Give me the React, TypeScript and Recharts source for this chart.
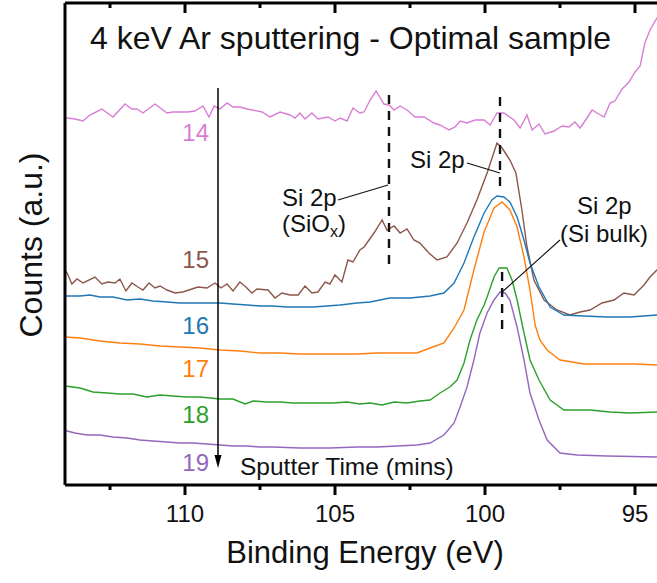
import { LineChart, Line, XAxis, YAxis, ReferenceLine, Customized } from "recharts";

const FONT = '"Liberation Sans", Arial, Helvetica, sans-serif';

// binding energy ticks (eV) - minors have no label
const xTicks = [112.5, 110, 107.5, 105, 102.5, 100, 97.5, 95];
const majorTicks = [110, 105, 100, 95];

// [binding energy (eV), counts (a.u., stacked offset)]
const spectrum14: [number, number][] = [
  [114.0, 367], [113.93, 367], [113.67, 366], [113.4, 364], [113.17, 370], [112.77, 376], [112.4, 368],
  [112.0, 381], [111.77, 376], [111.6, 376], [111.4, 372], [111.0, 381], [110.6, 372], [110.4, 373],
  [109.93, 373], [109.67, 374], [109.4, 379], [109.2, 368], [109.03, 379], [108.83, 376], [108.6, 382],
  [108.4, 378], [108.17, 378], [107.93, 376], [107.43, 373], [107.17, 368], [106.83, 373], [106.5, 370],
  [106.33, 367], [106.17, 372], [106.0, 366], [105.77, 372], [105.57, 366], [105.23, 368], [105.0, 364],
  [104.83, 367], [104.6, 364], [104.4, 377], [104.17, 372], [104.03, 373], [103.83, 385], [103.63, 394],
  [103.37, 381], [103.2, 380], [103.03, 375], [102.83, 379], [102.6, 375], [102.33, 368], [102.03, 368],
  [101.7, 362], [101.5, 360], [101.2, 355], [101.0, 358], [100.83, 364], [100.6, 362], [100.33, 365],
  [100.03, 365], [99.83, 360], [99.6, 372], [99.37, 372], [99.03, 365], [98.83, 357], [98.6, 370],
  [98.43, 355], [98.2, 361], [98.0, 351], [97.7, 354], [97.43, 359], [97.2, 358], [97.0, 363],
  [96.83, 357], [96.6, 367], [96.43, 375], [96.27, 372], [96.03, 368], [95.83, 382], [95.67, 384],
  [95.43, 396], [95.2, 403], [95.0, 413], [94.83, 419], [94.67, 442], [94.5, 455], [94.27, 467], [94.07, 477],
];

const spectrum15: [number, number][] = [
  [114.0, 215], [113.93, 212], [113.77, 201], [113.6, 206], [113.4, 202], [113.0, 208], [112.77, 201],
  [112.57, 203], [112.33, 202], [112.17, 206], [111.97, 194], [111.77, 202], [111.57, 198], [111.4, 195],
  [111.2, 202], [111.0, 197], [110.83, 199], [110.6, 195], [110.33, 192], [110.07, 193], [109.77, 196],
  [109.57, 198], [109.27, 197], [109.0, 202], [108.8, 197], [108.6, 201], [108.4, 194], [108.17, 203],
  [107.97, 198], [107.77, 192], [107.6, 196], [107.23, 195], [107.0, 187], [106.77, 192], [106.5, 190],
  [106.23, 190], [106.0, 199], [105.77, 192], [105.57, 193], [105.33, 203], [105.17, 201], [105.0, 210],
  [104.77, 203], [104.57, 225], [104.4, 223], [104.17, 235], [104.03, 238], [103.7, 252], [103.43, 265],
  [103.27, 255], [103.03, 259], [102.83, 252], [102.6, 256], [102.37, 245], [102.17, 242], [101.87, 232],
  [101.6, 225], [101.27, 228], [100.93, 242], [100.6, 262], [100.27, 285], [99.93, 312], [99.6, 342],
  [99.43, 337], [99.17, 325], [98.97, 312], [98.77, 275], [98.6, 238], [98.37, 205], [98.03, 185],
  [97.6, 175], [97.17, 170], [96.83, 173], [96.5, 175], [96.1, 182], [95.7, 185], [95.37, 192],
  [95.03, 190], [94.7, 200], [94.5, 208], [94.27, 215], [94.03, 223],
];

const spectrum16: [number, number][] = [
  [114.0, 189], [113.5, 189], [113.17, 190], [112.83, 188], [112.4, 188], [111.93, 185], [111.5, 186],
  [111.07, 184], [110.6, 183], [110.17, 182], [109.73, 182], [109.27, 182], [108.83, 182], [108.4, 181],
  [107.93, 180], [107.5, 179], [107.07, 179], [106.6, 178], [106.17, 178], [105.73, 178], [105.27, 179],
  [104.83, 180], [104.27, 182], [103.83, 183], [103.17, 187], [102.5, 187], [101.83, 189], [101.37, 192],
  [101.03, 202], [100.7, 222], [100.37, 248], [100.03, 272], [99.77, 285], [99.6, 289], [99.37, 288],
  [99.17, 283], [98.93, 268], [98.7, 245], [98.5, 222], [98.2, 198], [97.83, 178], [97.37, 170],
  [96.7, 169], [95.93, 168], [95.17, 168], [94.27, 170], [94.0, 170],
];

const spectrum17: [number, number][] = [
  [114.0, 148], [113.5, 147], [112.83, 144], [112.17, 142], [111.5, 141], [110.83, 139], [110.17, 138],
  [109.5, 137], [108.83, 135], [108.17, 134], [107.5, 132], [106.83, 132], [106.17, 131], [105.5, 131],
  [104.83, 131], [104.27, 131], [103.6, 132], [102.93, 132], [102.27, 132], [101.83, 137], [101.37, 142],
  [101.03, 157], [100.7, 175], [100.37, 215], [100.03, 253], [99.7, 277], [99.43, 283], [99.17, 275],
  [98.93, 258], [98.7, 228], [98.5, 195], [98.33, 160], [98.17, 145], [97.93, 135], [97.5, 125],
  [96.7, 121], [95.83, 121], [95.0, 121], [94.27, 120], [94.0, 120],
];

const spectrum18: [number, number][] = [
  [114.0, 99], [113.5, 97], [113.07, 93], [112.6, 92], [112.17, 91], [111.73, 91], [111.27, 88],
  [110.83, 90], [110.4, 89], [109.93, 88], [109.5, 88], [108.83, 86], [108.4, 86], [108.0, 81],
  [107.73, 84], [107.27, 83], [106.83, 83], [106.4, 82], [105.93, 82], [105.5, 82], [105.07, 82],
  [104.6, 83], [104.17, 81], [103.83, 82], [103.43, 80], [103.03, 83], [102.6, 82], [102.17, 84],
  [101.83, 85], [101.5, 92], [101.17, 98], [100.93, 105], [100.7, 122], [100.5, 145], [100.27, 165],
  [100.03, 180], [99.93, 188], [99.7, 208], [99.53, 217], [99.27, 217], [99.1, 205], [98.93, 185],
  [98.7, 152], [98.5, 125], [98.2, 105], [97.83, 85], [97.37, 75], [96.5, 75], [95.83, 73],
  [95.17, 72], [94.27, 73], [94.0, 73],
];

const spectrum19: [number, number][] = [
  [114.0, 55], [113.93, 54], [113.67, 52], [113.27, 50], [112.83, 50], [112.4, 48], [111.93, 47],
  [111.5, 45], [111.07, 44], [110.6, 43], [110.17, 42], [109.73, 42], [109.27, 41], [108.83, 40],
  [108.4, 39], [107.93, 39], [107.5, 38], [107.07, 38], [106.17, 37], [105.17, 37], [104.27, 38],
  [103.6, 38], [102.93, 39], [102.27, 40], [101.83, 42], [101.37, 50], [101.03, 62], [100.83, 78],
  [100.6, 98], [100.37, 125], [100.17, 152], [99.93, 172], [99.7, 185], [99.5, 193], [99.33, 192],
  [99.17, 185], [98.93, 158], [98.7, 125], [98.5, 92], [98.2, 65], [97.93, 45], [97.5, 32],
  [96.93, 30], [95.93, 29], [94.27, 28], [94.0, 28],
];

const series = [
  { name: "14", color: "#d97ed5", points: spectrum14 },
  { name: "15", color: "#8c564b", points: spectrum15 },
  { name: "16", color: "#1f77b4", points: spectrum16 },
  { name: "17", color: "#ff7f0e", points: spectrum17 },
  { name: "18", color: "#2ca02c", points: spectrum18 },
  { name: "19", color: "#9467bd", points: spectrum19 },
];

// guide lines in data units: [energy, counts top, counts bottom]
const dashedMarks: [number, number, number][] = [
  [103.2, 390, 220],
  [99.5, 388, 298],
  [99.43, 213, 153],
];
const leaderLines: [number, number, number, number][] = [
  [104.9, 285, 103.23, 300],
  [100.6, 322, 99.5, 312],
  [97.5, 245, 99.43, 193],
];
const sputterArrow: [number, number, number] = [108.9, 397, 17];

const toRows = (pts: [number, number][]) => pts.map(([e, c]) => ({ e, c }));

const BottomTick = ({ x, y, payload }: any) => {
  const major = majorTicks.includes(payload.value);
  return (
    <g>
      <line x1={x} x2={x} y1={y} y2={y + (major ? 10 : 5)} stroke="#000" strokeWidth={3} />
      {major && (
        <text x={x} y={y + 37} textAnchor="middle" fontSize={24} fontFamily={FONT} fill="#111">
          {payload.value}
        </text>
      )}
    </g>
  );
};

const TopTick = ({ x, y, payload }: any) => {
  const major = majorTicks.includes(payload.value);
  return <line x1={x} x2={x} y1={y} y2={y + (major ? 10 : 5)} stroke="#000" strokeWidth={3} />;
};

const ArrowShape = (p: any) => {
  const { x1, y1, x2, y2 } = p;
  return (
    <g>
      <line x1={x1} y1={y1} x2={x2} y2={y2 - 10} stroke="#000" strokeWidth={1.5} />
      <polygon points={`${x2 - 3.5},${y2 - 13} ${x2 + 3.5},${y2 - 13} ${x2},${y2}`} fill="#000" />
    </g>
  );
};

const Annotations = () => (
  <g fontFamily={FONT}>
    <text x={90} y={49} fontSize={32} fill="#111">4 keV Ar sputtering - Optimal sample</text>
    {[141, 268, 334, 377, 423, 471].map((by, i) => (
      <text key={series[i].name} x={209} y={by} textAnchor="end" fontSize={24} fill={series[i].color}>
        {series[i].name}
      </text>
    ))}
    <text x={240} y={475} fontSize={24.5} fill="#111">Sputter Time (mins)</text>
    <text x={282} y={206} fontSize={24} fill="#111">Si 2p</text>
    <text x={282} y={232} fontSize={24} fill="#111">
      (SiO<tspan fontSize={16} dy={5}>x</tspan><tspan dy={-5}>)</tspan>
    </text>
    <text x={410} y={168} fontSize={24} fill="#111">Si 2p</text>
    <text x={577} y={214} fontSize={24} fill="#111">Si 2p</text>
    <text x={560} y={242} fontSize={24} fill="#111">(Si bulk)</text>
    <text x={365} y={563} textAnchor="middle" fontSize={31} fill="#111">Binding Energy (eV)</text>
    <text transform="translate(42,245) rotate(-90)" textAnchor="middle" fontSize={32} fill="#111">
      Counts (a.u.)
    </text>
  </g>
);

export default function App() {
  return (
    <div style={{ position: "absolute", left: 0, top: 0, width: 657, height: 583, overflow: "hidden", background: "#fff" }}>
      <LineChart width={700} height={583} margin={{ top: 2, right: 35, bottom: 68, left: 64 }}>
        <XAxis
          dataKey="e"
          type="number"
          domain={[94, 114]}
          reversed
          allowDataOverflow
          ticks={xTicks}
          interval={0}
          height={30}
          tickSize={0}
          tickMargin={0}
          tickLine={false}
          axisLine={{ stroke: "#000", strokeWidth: 3 }}
          tick={<BottomTick />}
        />
        <XAxis
          xAxisId="top"
          orientation="top"
          dataKey="e"
          type="number"
          domain={[94, 114]}
          reversed
          allowDataOverflow
          ticks={xTicks}
          interval={0}
          height={1}
          tickSize={0}
          tickMargin={0}
          tickLine={false}
          axisLine={{ stroke: "#000", strokeWidth: 3 }}
          tick={<TopTick />}
        />
        <YAxis
          type="number"
          domain={[0, 482]}
          allowDataOverflow
          width={1}
          tick={false}
          tickLine={false}
          axisLine={{ stroke: "#000", strokeWidth: 3 }}
        />
        {series.map((s) => (
          <Line
            key={s.name}
            data={toRows(s.points)}
            dataKey="c"
            type="linear"
            stroke={s.color}
            strokeWidth={1.4}
            dot={false}
            activeDot={false}
            isAnimationActive={false}
          />
        ))}
        {dashedMarks.map(([e, top, bottom], i) => (
          <ReferenceLine
            key={`d${i}`}
            segment={[{ x: e, y: top }, { x: e, y: bottom }]}
            stroke="#111"
            strokeWidth={2.4}
            strokeDasharray="9 7"
          />
        ))}
        {leaderLines.map(([e1, c1, e2, c2], i) => (
          <ReferenceLine
            key={`l${i}`}
            segment={[{ x: e1, y: c1 }, { x: e2, y: c2 }]}
            stroke="#111"
            strokeWidth={1.1}
          />
        ))}
        <ReferenceLine
          segment={[{ x: sputterArrow[0], y: sputterArrow[1] }, { x: sputterArrow[0], y: sputterArrow[2] }]}
          shape={ArrowShape}
        />
        <Customized component={<Annotations />} />
      </LineChart>
    </div>
  );
}
